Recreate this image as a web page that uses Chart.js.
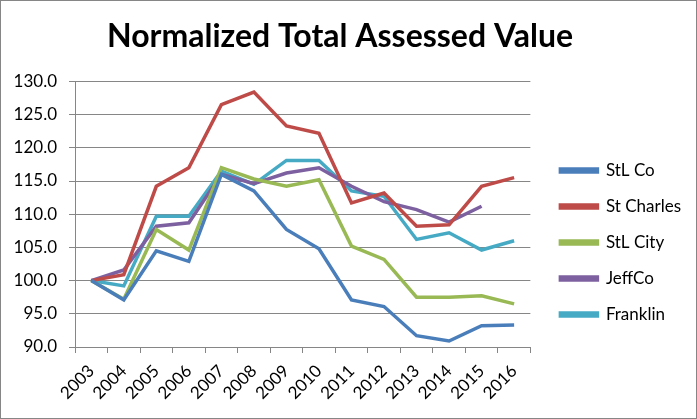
<!DOCTYPE html>
<html>
<head>
<meta charset="utf-8">
<script src="https://cdn.jsdelivr.net/npm/chart.js@4"></script>
<style>
  html, body { margin: 0; padding: 0; background: #fff; }
  #wrap { width: 697px; height: 419px; position: relative; }
</style>
</head>
<body>
<div id="wrap"><canvas id="myChart" width="697" height="419"></canvas></div>
<script>
// years on the x axis
const years = ['2003','2004','2005','2006','2007','2008','2009','2010','2011','2012','2013','2014','2015','2016'];

// values (2003 = 100)
const stlCo     = [100, 97.1, 104.5, 102.9, 116.0, 113.5, 107.7, 104.8, 97.1, 96.1, 91.7, 90.9, 93.2, 93.3];
const stCharles = [100, 100.9, 114.2, 117.0, 126.5, 128.4, 123.3, 122.2, 111.7, 113.2, 108.2, 108.4, 114.2, 115.5];
const stlCity   = [100, 97.2, 107.7, 104.6, 117.0, 115.3, 114.2, 115.2, 105.2, 103.2, 97.5, 97.5, 97.7, 96.5];
const jeffCo    = [100, 101.6, 108.2, 108.7, 116.0, 114.6, 116.2, 117.0, 114.2, 111.9, 110.7, 108.8, 111.2, null];
const franklin  = [100, 99.2, 109.7, 109.7, 116.5, 114.5, 118.1, 118.1, 113.5, 112.7, 106.2, 107.2, 104.6, 106.0];

const seriesNames = ['StL Co', 'St Charles', 'StL City', 'JeffCo', 'Franklin'];
const colors = ['#4A7EBB', '#BE4B48', '#98B954', '#7D60A0', '#46AAC5'];

const yTicks = [90, 95, 100, 105, 110, 115, 120, 125, 130];

const FONT = 'Lato, "Liberation Sans", sans-serif';

function mk(i, data) {
  return {
    label: seriesNames[i],
    data: data,
    borderColor: colors[i],
    backgroundColor: colors[i],
    borderWidth: 3.5,
    pointRadius: 0,
    tension: 0,
    spanGaps: false
  };
}

// white background + thin grey frame like the excel chart,
// and nudge the legend down a bit
const frame = {
  id: 'frame',
  afterLayout(chart) {
    const lg = chart.legend;
    if (lg) {
      lg.left += 11; lg.right += 11;
      lg.top += 33; lg.bottom += 33;
    }
  },
  beforeDraw(chart) {
    const c = chart.ctx;
    c.save();
    c.fillStyle = '#fff';
    c.fillRect(0, 0, chart.width, chart.height);
    c.restore();
  },
  afterDraw(chart) {
    const c = chart.ctx;
    c.save();
    c.strokeStyle = '#868686';
    c.lineWidth = 1;
    c.strokeRect(0.5, 0.5, chart.width - 1, chart.height - 1);
    c.restore();
  }
};

new Chart(document.getElementById('myChart'), {
  type: 'line',
  data: {
    labels: years,
    datasets: [mk(0, stlCo), mk(1, stCharles), mk(2, stlCity), mk(3, jeffCo), mk(4, franklin)]
  },
  options: {
    responsive: false,
    animation: false,
    layout: { padding: { top: 0, right: 17, bottom: 0, left: 0 } },
    plugins: {
      title: {
        display: true,
        text: 'Normalized Total Assessed Value',
        color: '#000',
        font: { family: FONT, size: 32, weight: 'bold' },
        padding: { top: 17, bottom: 26 }
      },
      legend: {
        position: 'right',
        labels: {
          color: '#000',
          font: { family: FONT, size: 17 },
          boxWidth: 37,
          boxHeight: 3,
          padding: 19
        }
      },
      tooltip: { enabled: false }
    },
    scales: {
      x: {
        offset: true,
        afterFit(scale) { scale.height = 72; },
        grid: { display: true, drawOnChartArea: false, drawTicks: true, tickLength: 6, offset: true, color: '#868686' },
        border: { color: '#868686' },
        ticks: { color: '#000', font: { family: FONT, size: 17 }, minRotation: 45, maxRotation: 45, autoSkip: false, padding: 8 }
      },
      y: {
        min: 90,
        max: 130,
        afterFit(scale) { scale.width = 75; },
        afterBuildTicks(scale) { scale.ticks = yTicks.map(v => ({ value: v })); },
        grid: { color: '#868686', tickLength: 6 },
        border: { color: '#868686' },
        ticks: {
          color: '#000',
          font: { family: FONT, size: 17 },
          padding: 12,
          callback: v => Number(v).toFixed(1)
        }
      }
    }
  },
  plugins: [frame]
});
</script>
</body>
</html>
